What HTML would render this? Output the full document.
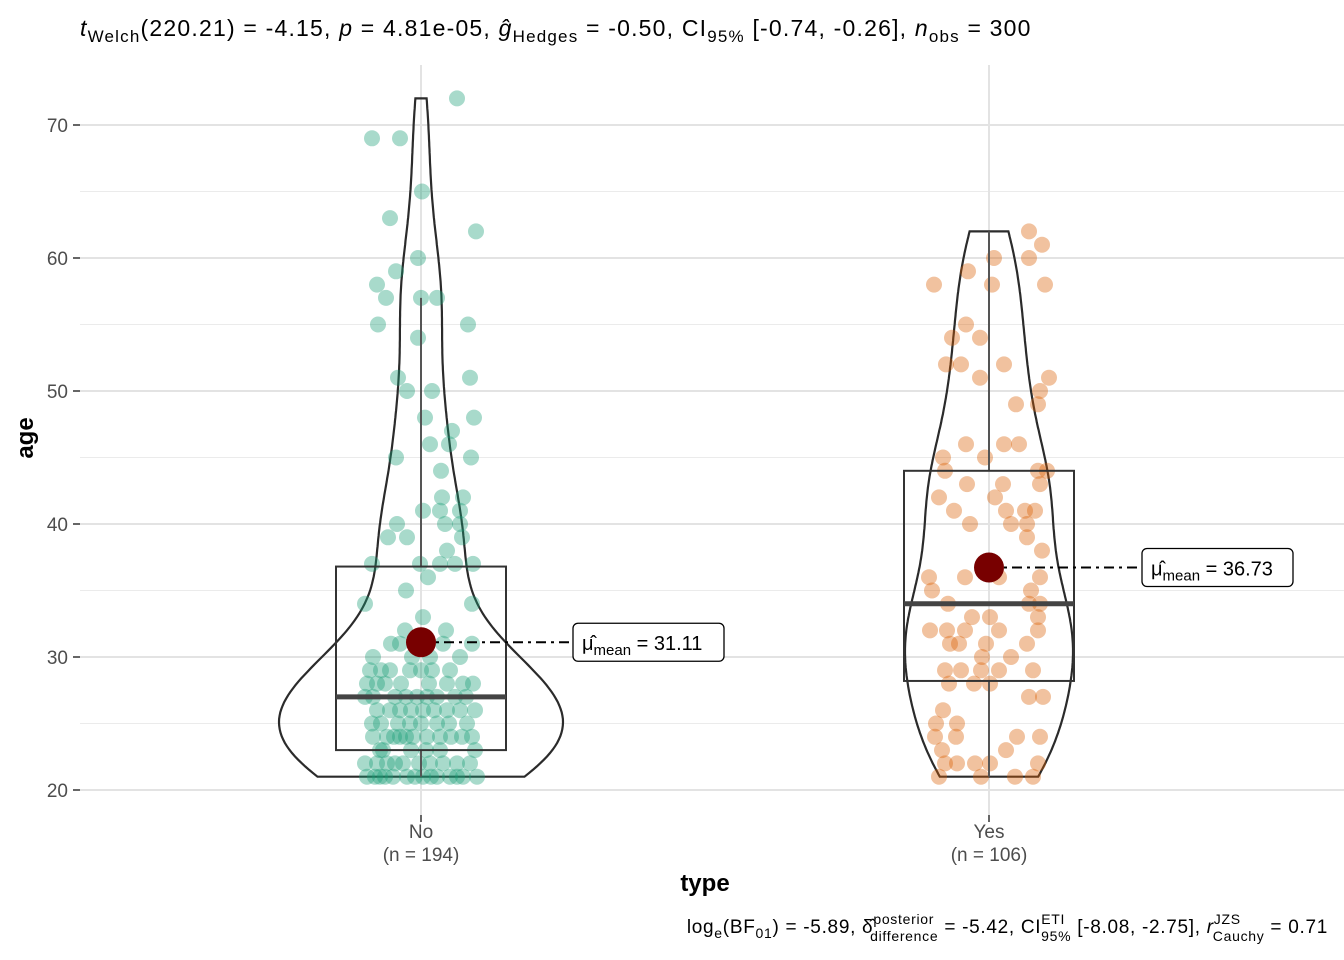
<!DOCTYPE html>
<html><head><meta charset="utf-8">
<style>
html,body{margin:0;padding:0;background:#fff;}
svg{display:block;font-family:"Liberation Sans",Arial,sans-serif;}
</style></head>
<body>
<svg id="chart" width="1344" height="960" viewBox="0 0 1344 960" xmlns="http://www.w3.org/2000/svg">
  <g id="grid"></g>
  <g id="violins"></g>
  <g id="points"></g>
  <g id="boxes"></g>
  <g id="means"></g>
  <g id="axes"></g>
  <text x="80" y="36" font-size="23" letter-spacing="1.2" fill="#000"><tspan font-style="italic">t</tspan><tspan font-size="17" dy="6">Welch</tspan><tspan dy="-6">(220.21) = -4.15, </tspan><tspan font-style="italic">p</tspan><tspan> = 4.81e-05, </tspan><tspan font-style="italic">ĝ</tspan><tspan font-size="17" dy="6">Hedges</tspan><tspan dy="-6"> = -0.50, CI</tspan><tspan font-size="17" dy="6">95%</tspan><tspan dy="-6"> [-0.74, -0.26], </tspan><tspan font-style="italic">n</tspan><tspan font-size="17" dy="6">obs</tspan><tspan dy="-6"> = 300</tspan></text>
  <text x="1328" y="933" font-size="19" letter-spacing="0.7" text-anchor="end" fill="#000">log<tspan font-size="14" dy="5">e</tspan><tspan dy="-5">(BF</tspan><tspan font-size="14" dy="5">01</tspan><tspan dy="-5">) = -5.89, δ̂</tspan><tspan font-size="14" dy="-9">posterior</tspan><tspan font-size="14" dx="-64" dy="17">difference</tspan><tspan dy="-8"> = -5.42, CI</tspan><tspan font-size="14" dy="-9">ETI</tspan><tspan font-size="14" dx="-24" dy="17">95%</tspan><tspan dy="-8"> [-8.08, -2.75], </tspan><tspan font-style="italic">r</tspan><tspan font-size="14" dy="-9">JZS</tspan><tspan font-size="14" dx="-28" dy="17">Cauchy</tspan><tspan dy="-8"> = 0.71</tspan></text>
</svg>
<script>
// ---- data ----
const categories = ["No", "Yes"];
const groupCounts = [194, 106];
const noJitter = [-49,-21,36,1,-31,55,-3,-25,-44,-35,0,16,-43,47,-3,-23,49,-14,11,4,53,31,9,28,-25,50,20,21,42,2,19,39,-24,24,39,-33,-14,41,26,-49,-1,19,34,52,7,-15,-56,51,2,-16,25,-21,22,51,-48,-9,9,39,-51,-31,-11,11,29,-54,-36,26,42,52,-56,-26,-4,16,34,-31,-21,2,26,39,54,-49,-23,-11,16,46,-48,-34,-21,-8,6,19,41,51,-41,19,54,-56,-34,-18,9,36,49,-54,-41,-28,-14,2,16,29,42,56,-46,-36,-6,10,36,-44,-26,-2,22,-38,-10,5,-27,-15,30,-40,0,28,-44,-10,13,-48,-15,6,45,-44,-20,8,-40,0,-30];
const noAge = [69,69,72,65,63,62,60,59,58,57,57,57,55,55,54,51,51,50,50,48,48,47,46,46,45,45,44,42,42,41,41,41,40,40,40,39,39,39,38,37,37,37,37,37,36,35,34,34,33,32,32,31,31,31,30,30,30,30,29,29,29,29,29,28,28,28,28,28,27,27,27,27,27,26,26,26,26,26,26,25,25,25,25,25,24,24,24,24,24,24,24,24,23,23,23,22,22,22,22,22,22,21,21,21,21,21,21,21,21,21,21,21,21,21,21,22,22,22,22,23,23,23,24,24,24,25,25,25,26,26,26,27,27,27,27,28,28,28,29,29,31];
const yesJitter = [40,53,40,5,-21,-55,3,56,-23,-37,-9,-43,-28,15,-9,60,51,49,27,-23,15,30,-46,-4,-44,49,58,-22,14,51,-50,6,-35,17,36,46,-19,22,38,38,53,-60,-24,10,51,-57,42,-41,40,51,-17,1,49,-59,-42,-24,10,49,-39,-30,-3,38,-7,22,-44,-28,-8,10,44,-40,-15,1,40,54,-46,-53,-32,-54,-33,28,51,-47,17,-44,-32,-14,1,49,-50,-8,26,44];
const yesAge = [62,61,60,60,59,58,58,58,55,54,54,52,52,52,51,51,50,49,49,46,46,46,45,45,44,44,44,43,43,43,42,42,41,41,41,41,40,40,40,39,38,36,36,36,36,35,35,34,34,34,33,33,33,32,32,32,32,32,31,31,31,31,30,30,29,29,29,29,29,28,28,28,27,27,26,25,25,24,24,24,24,23,23,22,22,22,22,22,21,21,21,21];
const boxQ1 = [23, 28.2];
const boxMedian = [27, 34];
const boxQ3 = [36.8, 44];
const whiskerLow = [21, 21];
const whiskerHigh = [57, 62];
const means = [31.11, 36.73];
const yTicks = [20, 30, 40, 50, 60, 70];
const yMinor = [25, 35, 45, 55, 65];

// ---- scales / style ----
const NS = "http://www.w3.org/2000/svg";
const yS = v => 790 - (v - 20) * 13.3;
const xS = i => 421 + i * 568;
const PL = 80, PR = 1344, PT = 65, PB = 815;
const colors = ["#1b9e77", "#d95f02"];
const maxHalf = [142, 84];
function mk(tag, attrs, parent) {
  const e = document.createElementNS(NS, tag);
  for (const k in attrs) e.setAttribute(k, attrs[k]);
  parent.appendChild(e); return e;
}
const grid = document.getElementById('grid');
yMinor.forEach(v => {
  const l = mk('line', {x1: PL, x2: PR, y1: yS(v), y2: yS(v), stroke: '#ebebeb', 'stroke-width': 1}, grid);
  
  
});
yTicks.forEach(v => {
  const l = mk('line', {x1: PL, x2: PR, y1: yS(v), y2: yS(v), stroke: '#e3e3e3', 'stroke-width': 2}, grid);
  
  
});
categories.forEach((c, i) => {
  const l = mk('line', {x1: xS(i), x2: xS(i), y1: PT, y2: PB, stroke: '#e3e3e3', 'stroke-width': 2}, grid);
  
  
});

// ---- violins (KDE from data) ----
const groups = [[noJitter, noAge], [yesJitter, yesAge]];
function kde(vals) {
  const n = vals.length, m = vals.reduce((a, b) => a + b, 0) / n;
  const sd = Math.sqrt(vals.reduce((a, b) => a + (b - m) * (b - m), 0) / (n - 1));
  const s = [...vals].sort((a, b) => a - b);
  const q = p => { const h = (n - 1) * p, lo = Math.floor(h); return s[lo] + (h - lo) * ((s[lo + 1] ?? s[lo]) - s[lo]); };
  const iqr = q(0.75) - q(0.25);
  const bw = 0.9 * Math.min(sd, iqr / 1.34) * Math.pow(n, -0.2);
  const lo = s[0], hi = s[n - 1], pts = [];
  for (let k = 0; k <= 200; k++) {
    const y = lo + (hi - lo) * k / 200;
    let d = 0; vals.forEach(v => { const z = (y - v) / bw; d += Math.exp(-0.5 * z * z); });
    pts.push([y, d]);
  }
  const mx = Math.max(...pts.map(p => p[1]));
  return pts.map(p => [p[0], p[1] / mx]);
}
const vg = document.getElementById('violins');
groups.forEach((g, i) => {
  const d = kde(g[1]);
  const cx = xS(i), w = maxHalf[i];
  let path = d.map((p, k) => (k ? 'L' : 'M') + (cx + p[1] * w).toFixed(1) + ',' + yS(p[0]).toFixed(1)).join('');
  path += [...d].reverse().map(p => 'L' + (cx - p[1] * w).toFixed(1) + ',' + yS(p[0]).toFixed(1)).join('') + 'Z';
  const v = mk('path', {d: path, fill: 'none', stroke: '#2b2b2b', 'stroke-width': 2.2}, vg);
  
  
});

// ---- points ----
const pg = document.getElementById('points');
groups.forEach((g, i) => {
  g[1].forEach((a, k) => {
    const c = mk('circle', {cx: xS(i) + g[0][k], cy: yS(a), r: 8, fill: colors[i], 'fill-opacity': 0.38}, pg);
    
    
  });
});

// ---- boxes ----
const bg = document.getElementById('boxes');
categories.forEach((c, i) => {
  const cx = xS(i);
  const w1 = mk('line', {x1: cx, x2: cx, y1: yS(boxQ3[i]), y2: yS(whiskerHigh[i]), stroke: '#555', 'stroke-width': 2}, bg);
  
  
  const w2 = mk('line', {x1: cx, x2: cx, y1: yS(whiskerLow[i]), y2: yS(boxQ1[i]), stroke: '#555', 'stroke-width': 2}, bg);
  
  
  const r = mk('rect', {x: cx - 85, y: yS(boxQ3[i]), width: 170, height: yS(boxQ1[i]) - yS(boxQ3[i]), fill: 'none', stroke: '#333', 'stroke-width': 2}, bg);
  
  
  const m = mk('line', {x1: cx - 85, x2: cx + 85, y1: yS(boxMedian[i]), y2: yS(boxMedian[i]), stroke: '#444', 'stroke-width': 5}, bg);
  
  
});

// ---- means + labels ----
const mg = document.getElementById('means');
const labelX = [573, 1142];
categories.forEach((c, i) => {
  const cx = xS(i), cy = yS(means[i]);
  const ln = mk('line', {x1: cx, x2: labelX[i], y1: cy, y2: cy, stroke: '#000', 'stroke-width': 2, 'stroke-dasharray': '10,5,3,5'}, mg);
  
  
  const pt = mk('circle', {cx: cx, cy: cy, r: 15, fill: '#780000'}, mg);
  
  
  const rb = mk('rect', {x: labelX[i], y: cy - 19, width: 151, height: 38, rx: 5, fill: '#fff', stroke: '#000', 'stroke-width': 1.3}, mg);
  
  
  const t = mk('text', {x: labelX[i] + 9, y: cy + 8, 'font-size': 20, fill: '#000'}, mg);
  
  
  t.innerHTML = 'μ̂<tspan font-size="15" dy="5">mean</tspan><tspan dy="-5"> = ' + means[i].toFixed(2) + '</tspan>';
});

// ---- axes ----
const ag = document.getElementById('axes');
yTicks.forEach(v => {
  const tk = mk('line', {x1: 73, x2: 80, y1: yS(v), y2: yS(v), stroke: '#333', 'stroke-width': 1.5}, ag);
  
  
  const t = mk('text', {x: 68, y: yS(v) + 7, 'font-size': 19, 'text-anchor': 'end', fill: '#4d4d4d'}, ag);
  
  
  t.textContent = v;
});
categories.forEach((c, i) => {
  const tk = mk('line', {x1: xS(i), x2: xS(i), y1: 815, y2: 822, stroke: '#333', 'stroke-width': 1.5}, ag);
  
  
  const t = mk('text', {x: xS(i), y: 838, 'font-size': 19, 'text-anchor': 'middle', fill: '#4d4d4d'}, ag);
  
  
  t.textContent = c;
  const t2 = mk('text', {x: xS(i), y: 861, 'font-size': 19, 'text-anchor': 'middle', fill: '#4d4d4d'}, ag);
  
  
  t2.textContent = '(n = ' + groupCounts[i] + ')';
});
const xt = mk('text', {x: 705, y: 891, 'font-size': 24, 'font-weight': 'bold', 'text-anchor': 'middle', fill: '#000'}, ag);


xt.textContent = 'type';
const yt = mk('text', {x: 0, y: 0, 'font-size': 24, 'font-weight': 'bold', 'text-anchor': 'middle', fill: '#000', transform: 'translate(33,438) rotate(-90)'}, ag);


yt.textContent = 'age';
</script>
</body></html>
